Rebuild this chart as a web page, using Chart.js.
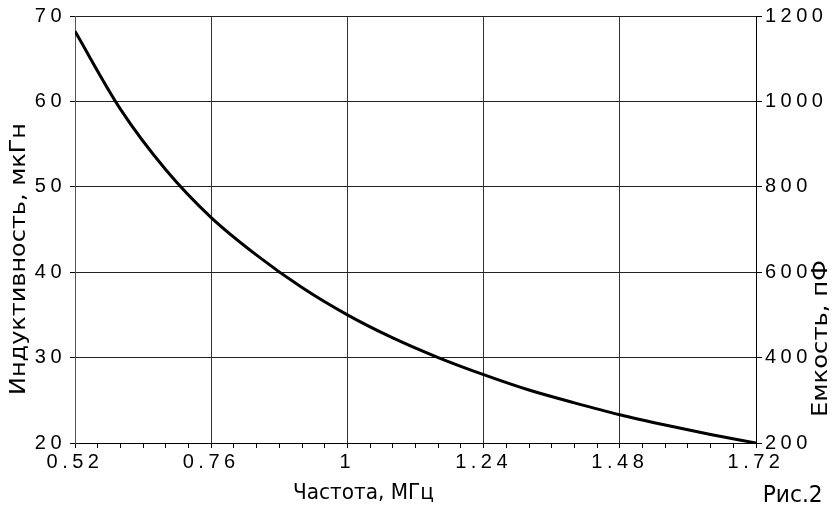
<!DOCTYPE html>
<html>
<head>
<meta charset="utf-8">
<script src="https://cdn.jsdelivr.net/npm/chart.js@4.4.1/dist/chart.umd.min.js"></script>
<style>
  html, body { margin: 0; padding: 0; background: #fff; }
  #wrap { width: 834px; height: 510px; }
</style>
</head>
<body>
<div id="wrap"><canvas id="lcChart" width="834" height="510"></canvas></div>
<script>
// Частота, МГц / Индуктивность, мкГн
const frequency = [0.52, 0.60, 0.68, 0.76, 0.84, 0.92, 1.00, 1.08, 1.16, 1.24, 1.32, 1.40, 1.48, 1.56, 1.64, 1.72];
const inductance = [68.2, 59.1, 52.0, 46.4, 42.0, 38.2, 35.0, 32.3, 30.0, 28.0, 26.2, 24.7, 23.3, 22.1, 21.0, 20.0];

const xMajorTicks = [0.52, 0.76, 1, 1.24, 1.48, 1.72];
const xTickLabels = ["0.52", "0.76", "1", "1.24", "1.48", "1.72"];
const xMinorSteps = 6;
const inductanceTicks = [20, 30, 40, 50, 60, 70];
const capacitanceTicks = [200, 400, 600, 800, 1000, 1200];

const tickFont = { family: "'Liberation Sans', Arial, sans-serif", size: 20 };
const titleFamily = "'DejaVu Sans', sans-serif";

function isMajor(value) {
  return xMajorTicks.some((m) => Math.abs(m - value) < 1e-6);
}

function allXTicks() {
  const ticks = [];
  for (let i = 0; i < xMajorTicks.length - 1; i++) {
    const step = (xMajorTicks[i + 1] - xMajorTicks[i]) / xMinorSteps;
    for (let k = 0; k < xMinorSteps; k++) ticks.push(xMajorTicks[i] + step * k);
  }
  ticks.push(xMajorTicks[xMajorTicks.length - 1]);
  return ticks;
}

// the drawing uses a wide drafting font: stretch the text along its baseline
function stretchedText(ctx, text, cx, baseY, length, size, angle) {
  ctx.font = `${size}px ${titleFamily}`;
  const sx = length / ctx.measureText(text).width;
  ctx.save();
  ctx.translate(cx, baseY);
  ctx.rotate(angle);
  ctx.scale(sx, 1);
  ctx.fillText(text, 0, 0);
  ctx.restore();
}

const textPlugin = {
  id: "textPlugin",
  beforeDraw(chart) {
    chart.ctx.letterSpacing = "4.5px";
  },
  afterDraw(chart) {
    const ctx = chart.ctx;
    ctx.save();
    ctx.letterSpacing = "0px";
    ctx.fillStyle = "#000";
    ctx.textAlign = "center";
    ctx.textBaseline = "alphabetic";
    stretchedText(ctx, "Частота, МГц", 363.5, 498.5, 141, 22, 0);
    stretchedText(ctx, "Индуктивность, мкГн", 25, 259, 272, 20.6, -Math.PI / 2);
    stretchedText(ctx, "Емкость, пФ", 827, 338.5, 157, 21.5, -Math.PI / 2);
    stretchedText(ctx, "Рис.2", 792.7, 502, 60, 23.7, 0);
    ctx.restore();
  },
};

new Chart(document.getElementById("lcChart"), {
  type: "line",
  data: {
    datasets: [{
      label: "Индуктивность",
      data: frequency.map((f, i) => ({ x: f, y: inductance[i] })),
      borderColor: "#000",
      borderWidth: 3,
      pointRadius: 0,
      fill: false,
      cubicInterpolationMode: "monotone",
      yAxisID: "y",
    }],
  },
  options: {
    responsive: false,
    animation: false,
    layout: { padding: { top: 16, left: 0, right: 0, bottom: 0 } },
    plugins: { legend: { display: false }, tooltip: { enabled: false } },
    scales: {
      x: {
        type: "linear",
        min: 0.52,
        max: 1.72,
        afterBuildTicks: (scale) => { scale.ticks = allXTicks().map((v) => ({ value: v })); },
        afterFit: (scale) => { scale.height = 67; },
        ticks: {
          autoSkip: false,
          maxRotation: 0,
          padding: 2,
          color: "#000",
          font: tickFont,
          callback: (value) => {
            const i = xMajorTicks.findIndex((m) => Math.abs(m - value) < 1e-6);
            return i >= 0 ? xTickLabels[i] : "";
          },
        },
        grid: {
          color: (c) => (c.tick && isMajor(c.tick.value) ? "#333" : "rgba(0,0,0,0)"),
          tickColor: "#000",
          tickLength: 5,
          lineWidth: 1,
        },
        border: { color: "#000", width: 1 },
      },
      y: {
        position: "left",
        min: 20,
        max: 70,
        afterBuildTicks: (scale) => { scale.ticks = inductanceTicks.map((v) => ({ value: v })); },
        afterFit: (scale) => { scale.width = 75; },
        ticks: { color: "#000", font: tickFont, padding: 4, callback: (v) => String(v) },
        grid: { color: "#222", tickColor: "#000", tickLength: 5, lineWidth: 1 },
        border: { color: "#555", width: 1 },
      },
      y2: {
        position: "right",
        min: 200,
        max: 1200,
        afterBuildTicks: (scale) => { scale.ticks = capacitanceTicks.map((v) => ({ value: v })); },
        afterFit: (scale) => { scale.width = 78; },
        ticks: { color: "#000", font: tickFont, padding: 3, callback: (v) => String(v) },
        grid: { drawOnChartArea: false, tickColor: "#000", tickLength: 6 },
        border: { color: "#000", width: 1 },
      },
    },
  },
  plugins: [textPlugin],
});
</script>
</body>
</html>
